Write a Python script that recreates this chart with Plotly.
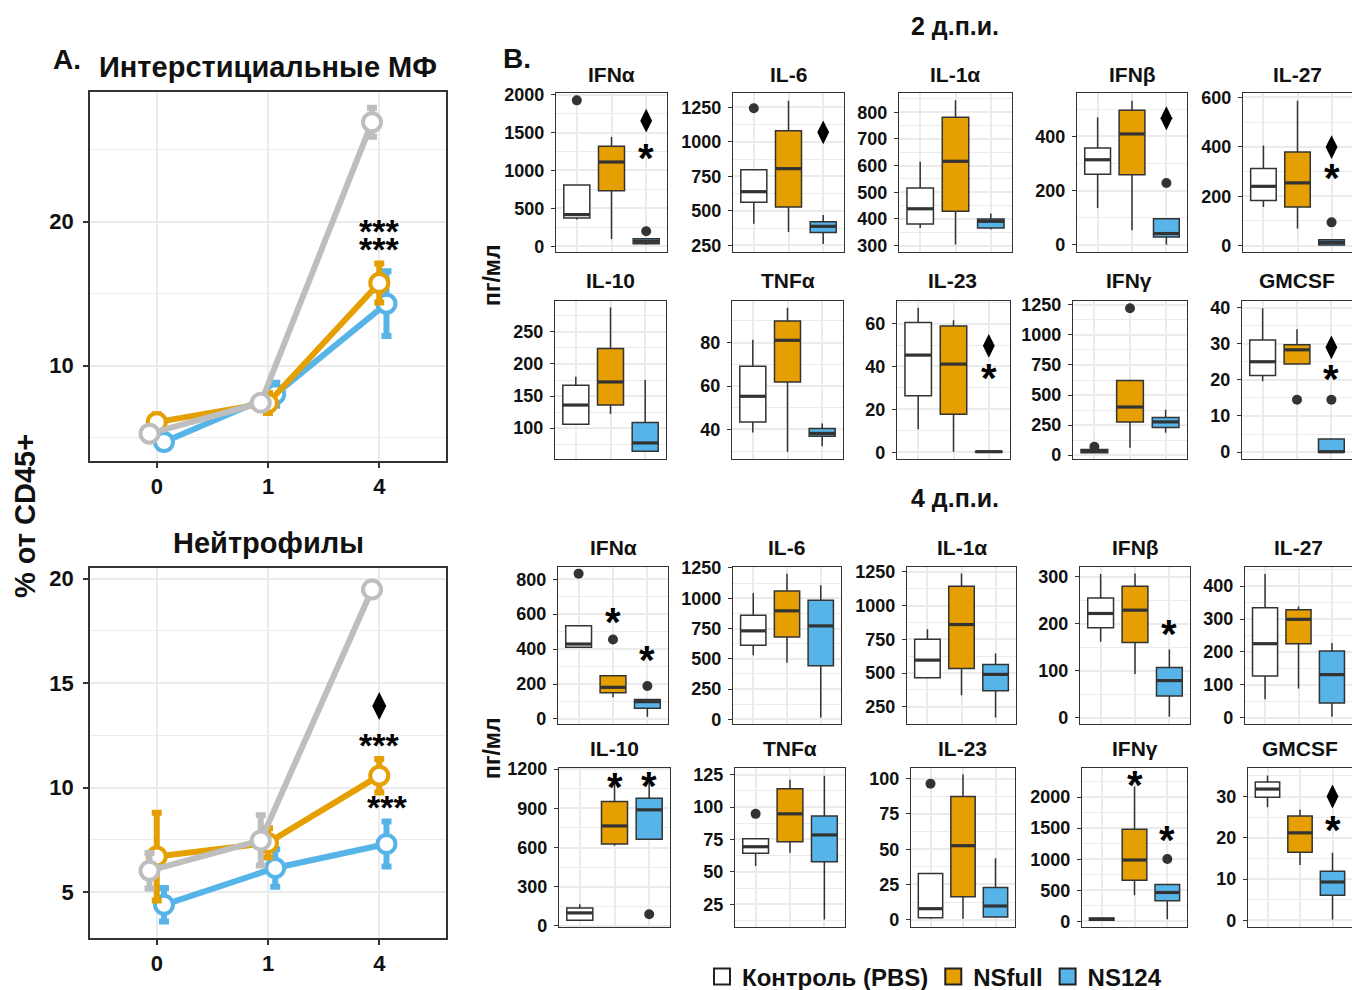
import plotly.graph_objects as go

W, H = 1352, 990
FONT = "Arial, Liberation Sans, sans-serif"
INK = "#111111"
EDGE = "#333333"
GRID = "#EBEBEB"

GROUPS = ["Контроль (PBS)", "NSfull", "NS124"]
BOX_FILL = ["#FFFFFF", "#E69F00", "#56B4E9"]
LINE_COL = ["#BEBEBE", "#E69F00", "#56B4E9"]

# ---------------- Panel A data (mean, error) ----------------
DAYS = ["0", "1", "4"]
MF_CTRL = [5.27, 7.41, 26.9]
MF_CTRL_ERR = [0.3, 0.3, 1.0]
MF_NSFULL = [6.07, 7.40, 15.73]
MF_NSFULL_ERR = [0.55, 0.7, 1.35]
MF_NS124 = [4.69, 8.00, 14.30]
MF_NS124_ERR = [0.3, 0.8, 2.25]
MF_SIG = [(2, 19.7, "***"), (2, 18.45, "***")]

NEU_CTRL = [6.02, 7.47, 19.48]
NEU_CTRL_ERR = [0.85, 1.2, 0.3]
NEU_NSFULL = [6.70, 7.35, 10.57]
NEU_NSFULL_ERR = [2.1, 0.7, 0.8]
NEU_NS124 = [4.39, 6.15, 7.30]
NEU_NS124_ERR = [0.8, 0.9, 1.08]
NEU_SIG = [(2, 12.3, "***"), (2.07, 9.3, "***")]
NEU_DIAMOND = [(2, 13.9)]

# ---------------- Panel B data: (lower, q1, median, q3, upper) per group ----------------
D2_IFNA = [(352, 374, 418, 809, 809), (97, 734, 1112, 1319, 1442), (22, 35, 66, 101, 101)]
D2_IFNA_OUT = [(0, 1925), (2, 198)]
D2_IFNA_SIG = [(2, 1657, "d"), (2, 1253, "*")]

D2_IL6 = [(407, 562, 639, 798, 798), (347, 528, 806, 1081, 1298), (260, 344, 388, 421, 470)]
D2_IL6_OUT = [(0, 1243)]
D2_IL6_SIG = [(2, 1069, "d")]

D2_IL1A = [(366, 381, 438, 516, 614), (304, 429, 616, 781, 845), (360, 366, 391, 400, 420)]
D2_IL1A_OUT = []
D2_IL1A_SIG = []

D2_IFNB = [(136, 261, 314, 357, 471), (54, 259, 409, 496, 531), (1, 29, 42, 97, 97)]
D2_IFNB_OUT = [(2, 228)]
D2_IFNB_SIG = [(2, 467, "d")]

D2_IL27 = [(156, 183, 240, 312, 405), (69, 156, 254, 379, 587), (0, 2, 13, 24, 24)]
D2_IL27_OUT = [(2, 94)]
D2_IL27_SIG = [(2, 399, "d"), (2, 301, "*")]

D2_IL10 = [(106, 106, 136, 167, 180), (122, 136, 172, 224, 288), (64, 64, 77, 109, 175)]
D2_IL10_OUT = []
D2_IL10_SIG = []

D2_TNFA = [(38.6, 43.5, 55.3, 69.1, 81.4), (29.7, 61.9, 81.1, 90.0, 96.1), (32.3, 36.9, 38.2, 40.5, 42.8)]
D2_TNFA_OUT = []
D2_TNFA_SIG = []

D2_IL23 = [(10.7, 26.4, 45.3, 60.5, 67.4), (0.3, 17.7, 41.1, 58.9, 61.5), (0.1, 0.2, 0.3, 0.4, 0.5)]
D2_IL23_OUT = []
D2_IL23_SIG = [(2, 49.6, "d"), (2, 37.8, "*")]

D2_IFNG = [(19, 19, 33, 47, 47), (61, 276, 400, 621, 621), (185, 229, 276, 312, 378)]
D2_IFNG_OUT = [(0, 69), (1, 1222)]
D2_IFNG_SIG = []

D2_GMCSF = [(19.6, 21.2, 25.0, 31.0, 39.8), (24.4, 24.4, 28.3, 29.7, 34.0), (0, 0, 0.1, 3.6, 3.6)]
D2_GMCSF_OUT = [(1, 14.5), (2, 14.5)]
D2_GMCSF_SIG = [(2, 29.0, "d"), (2, 22.1, "*")]

D4_IFNA = [(410, 410, 429, 533, 533), (124, 150, 181, 248, 248), (13, 61, 99, 112, 112)]
D4_IFNA_OUT = [(0, 832), (1, 455), (2, 189)]
D4_IFNA_SIG = [(1, 594, "*"), (2, 379, "*")]

D4_IL6 = [(530, 613, 731, 860, 1044), (467, 681, 896, 1060, 1203), (16, 442, 772, 984, 1107)]
D4_IL6_OUT = []
D4_IL6_SIG = []

D4_IL1A = [(465, 465, 596, 751, 825), (336, 534, 860, 1144, 1238), (171, 368, 490, 564, 645)]
D4_IL1A_OUT = []
D4_IL1A_SIG = []

D4_IFNB = [(162, 191.5, 222, 255, 306), (93, 160, 229, 280, 307), (2, 46, 79, 107, 145)]
D4_IFNB_OUT = []
D4_IFNB_SIG = [(2, 194, "*")]

D4_IL27 = [(56, 127, 225, 334, 437), (89, 225, 299, 328, 338), (3, 45, 131, 203, 227)]
D4_IL27_OUT = []
D4_IL27_SIG = []

D4_IL10 = [(38, 43.5, 100, 138, 166), (614, 627, 765, 952, 1087), (663, 663, 888, 977, 1105)]
D4_IL10_OUT = [(2, 90)]
D4_IL10_SIG = [(1, 1113, "*"), (2, 1123, "*")]

D4_TNFA = [(54.5, 64.3, 69.4, 75.6, 75.6), (64.8, 73.3, 94.8, 114.1, 121.1), (13.1, 57.8, 78.5, 93.2, 124.2)]
D4_TNFA_OUT = [(0, 94.8)]
D4_TNFA_SIG = []

D4_IL23 = [(0.7, 1.4, 7.8, 32.8, 32.8), (0.7, 16.2, 52.5, 87.4, 102.9), (1.9, 1.9, 9.7, 22.8, 43.5)]
D4_IL23_OUT = [(0, 96.4)]
D4_IL23_SIG = []

D4_IFNG = [(16, 16, 32, 54, 54), (420, 663, 987, 1482, 2172), (32, 329, 464, 593, 593)]
D4_IFNG_OUT = [(2, 1003)]
D4_IFNG_SIG = [(1, 2307, "*"), (2, 1418, "*")]

D4_GMCSF = [(27.4, 29.8, 31.8, 33.5, 35.1), (13.4, 16.5, 21.2, 25.3, 26.8), (0.2, 6.1, 9.3, 11.9, 16.4)]
D4_GMCSF_OUT = []
D4_GMCSF_SIG = [(2, 30.0, "d"), (2, 23.5, "*")]

# ---------------- layout spec (pixel boxes, y range, tick step) ----------------
BOX_PANELS = [
    ("IFNα", D2_IFNA, D2_IFNA_OUT, D2_IFNA_SIG, (556, 667, 93, 252), (-75, 2022), 500),
    ("IL-6", D2_IL6, D2_IL6_OUT, D2_IL6_SIG, (733, 844, 93, 252), (202, 1354), 250),
    ("IL-1α", D2_IL1A, D2_IL1A_OUT, D2_IL1A_SIG, (899, 1012, 93, 252), (276, 872), 100),
    ("IFNβ", D2_IFNB, D2_IFNB_OUT, D2_IFNB_SIG, (1077, 1187, 93, 252), (-26, 560), 200),
    ("IL-27", D2_IL27, D2_IL27_OUT, D2_IL27_SIG, (1243, 1352, 93, 252), (-26, 618), 200),
    ("IL-10", D2_IL10, D2_IL10_OUT, D2_IL10_SIG, (555, 666, 301, 459), (52, 298), 50),
    ("TNFα", D2_TNFA, D2_TNFA_OUT, D2_TNFA_SIG, (732, 843, 301, 459), (26.4, 99.2), 20),
    ("IL-23", D2_IL23, D2_IL23_OUT, D2_IL23_SIG, (897, 1010, 301, 459), (-3.1, 70.5), 20),
    ("IFNγ", D2_IFNG, D2_IFNG_OUT, D2_IFNG_SIG, (1073, 1187, 301, 459), (-33, 1283), 250),
    ("GMCSF", D2_GMCSF, D2_GMCSF_OUT, D2_GMCSF_SIG, (1242, 1352, 301, 459), (-1.9, 41.8), 10),
    ("IFNα", D4_IFNA, D4_IFNA_OUT, D4_IFNA_SIG, (558, 668, 567, 724), (-29, 870), 200),
    ("IL-6", D4_IL6, D4_IL6_OUT, D4_IL6_SIG, (733, 841, 567, 724), (-38, 1258), 250),
    ("IL-1α", D4_IL1A, D4_IL1A_OUT, D4_IL1A_SIG, (907, 1016, 567, 724), (122, 1287), 250),
    ("IFNβ", D4_IFNB, D4_IFNB_OUT, D4_IFNB_SIG, (1080, 1190, 567, 724), (-13.5, 321), 100),
    ("IL-27", D4_IL27, D4_IL27_OUT, D4_IL27_SIG, (1245, 1352, 567, 724), (-19, 458), 100),
    ("IL-10", D4_IL10, D4_IL10_OUT, D4_IL10_SIG, (559, 670, 768, 927), (-8, 1208), 300),
    ("TNFα", D4_TNFA, D4_TNFA_OUT, D4_TNFA_SIG, (735, 845, 768, 927), (7.4, 130.2), 25),
    ("IL-23", D4_IL23, D4_IL23_OUT, D4_IL23_SIG, (911, 1015, 768, 927), (-5.2, 107.6), 25),
    ("IFNγ", D4_IFNG, D4_IFNG_OUT, D4_IFNG_SIG, (1082, 1187, 768, 927), (-92, 2469), 500),
    ("GMCSF", D4_GMCSF, D4_GMCSF_OUT, D4_GMCSF_SIG, (1248, 1352, 768, 927), (-1.6, 36.9), 10),
]

LINE_PANELS = [
    ("Интерстициальные МФ", [MF_CTRL, MF_NSFULL, MF_NS124], [MF_CTRL_ERR, MF_NSFULL_ERR, MF_NS124_ERR],
     MF_SIG, [], (90, 446, 92, 461), (3.37, 29.0), [10, 20], [5, 15, 25]),
    ("Нейтрофилы", [NEU_CTRL, NEU_NSFULL, NEU_NS124], [NEU_CTRL_ERR, NEU_NSFULL_ERR, NEU_NS124_ERR],
     NEU_SIG, NEU_DIAMOND, (90, 446, 568, 938), (2.8, 20.51), [5, 10, 15, 20], [7.5, 12.5, 17.5]),
]
DODGE = [-0.065, 0.0, 0.065]


def xdom(a, b):
    return [max(0, a / W), min(1, b / W)]


def ydom(top, bottom):
    return [1 - bottom / H, 1 - top / H]


def bold(size, color=INK):
    return dict(family=FONT, size=size, color=color, weight="bold")


fig = go.Figure()
layout = dict(template="none", width=W, height=H,
              margin=dict(l=0, r=0, t=0, b=0, pad=0, autoexpand=False),
              plot_bgcolor="white", paper_bgcolor="white", boxmode="overlay",
              showlegend=True, font=dict(family=FONT))
annotations = []
idx = 0

# ----- Panel A -----
for title, means, errs, sig, diam, (x0, x1, y0, y1), yr, tv, mv in LINE_PANELS:
    idx += 1
    xa, ya = ("x", "y") if idx == 1 else (f"x{idx}", f"y{idx}")
    xk, yk = ("xaxis", "yaxis") if idx == 1 else (f"xaxis{idx}", f"yaxis{idx}")
    for order in [2, 1, 0]:
        col = LINE_COL[order]
        fig.add_trace(go.Scatter(
            x=[k + DODGE[order] for k in range(len(DAYS))], y=means[order],
            error_y=dict(type="data", array=errs[order], color=col, thickness=6, width=5),
            mode="lines+markers", line=dict(color=col, width=6),
            marker=dict(symbol="circle", size=18, color="white", line=dict(color=col, width=4)),
            xaxis=xa, yaxis=ya, showlegend=False, hoverinfo="skip"))
    for sx, sy, txt in sig:
        annotations.append(dict(x=sx, y=sy, xref=xa, yref=ya, text=txt, showarrow=False,
                                font=bold(34, "black"), yshift=-5))
    if diam:
        fig.add_trace(go.Scatter(x=[d[0] for d in diam], y=[d[1] for d in diam], mode="markers",
                                 marker=dict(symbol="diamond-tall", size=20, color="black"),
                                 xaxis=xa, yaxis=ya, showlegend=False, hoverinfo="skip"))
    layout[xk] = dict(domain=xdom(x0, x1), anchor=ya, range=[-0.6, 2.6], tickvals=[0, 1, 2],
                      ticktext=DAYS, showgrid=True, gridcolor=GRID, gridwidth=2, zeroline=False,
                      showline=True, mirror=True, linecolor=EDGE, linewidth=1.5, automargin=False,
                      ticks="outside", ticklen=5, tickcolor=EDGE, tickwidth=1.5,
                      tickfont=bold(22))
    layout[yk] = dict(domain=ydom(y0, y1), anchor=xa, range=list(yr), tickvals=tv,
                      showgrid=True, gridcolor=GRID, gridwidth=2, zeroline=False,
                      showline=True, mirror=True, linecolor=EDGE, linewidth=1.5, automargin=False,
                      ticks="outside", ticklen=5, tickcolor=EDGE, tickwidth=1.5,
                      tickfont=bold(22), ticklabelstandoff=5,
                      minor=dict(tickvals=mv, showgrid=True, gridcolor=GRID, gridwidth=1.2, ticks=""))
    annotations.append(dict(x=(x0 + x1) / 2 / W, y=1 - (y0 - 25) / H, xref="paper", yref="paper",
                            text=title, showarrow=False, font=bold(29), xanchor="center", yanchor="middle"))

# ----- Panel B -----
HALF = 0.375
for p, (title, stats, outs, sig, (x0, x1, y0, y1), yr, dt) in enumerate(BOX_PANELS):
    idx += 1
    xa, ya = f"x{idx}", f"y{idx}"
    xk, yk = f"xaxis{idx}", f"yaxis{idx}"
    for g, (lo, q1, md, q3, up) in enumerate(stats):
        fig.add_trace(go.Box(
            x=[g], lowerfence=[lo], q1=[q1], median=[md], q3=[q3], upperfence=[up],
            width=2 * HALF, fillcolor=BOX_FILL[g], line=dict(color=EDGE, width=1.5),
            whiskerwidth=0, boxpoints=False, xaxis=xa, yaxis=ya,
            showlegend=False, hoverinfo="skip"))
        fig.add_trace(go.Scatter(
            x=[g - HALF, g + HALF], y=[md, md], mode="lines",
            line=dict(color=EDGE, width=3.2), xaxis=xa, yaxis=ya,
            showlegend=False, hoverinfo="skip"))
    if outs:
        fig.add_trace(go.Scatter(x=[o[0] for o in outs], y=[o[1] for o in outs], mode="markers",
                                 marker=dict(size=10, color=EDGE), xaxis=xa, yaxis=ya,
                                 showlegend=False, hoverinfo="skip"))
    dmd = [s for s in sig if s[2] == "d"]
    if dmd:
        fig.add_trace(go.Scatter(x=[s[0] for s in dmd], y=[s[1] for s in dmd], mode="markers",
                                 marker=dict(symbol="diamond-tall", size=17, color="black"),
                                 xaxis=xa, yaxis=ya, showlegend=False, hoverinfo="skip"))
    for sx, sy, txt in sig:
        if txt == "*":
            annotations.append(dict(x=sx, y=sy, xref=xa, yref=ya, text="*", showarrow=False,
                                    font=bold(40, "black"), yshift=-7))
    layout[xk] = dict(domain=xdom(x0, x1), anchor=ya, range=[-0.6, 2.6], tickvals=[0, 1, 2],
                      showticklabels=False, ticks="", showgrid=True, gridcolor=GRID, gridwidth=1.5,
                      zeroline=False, showline=True, mirror=True, linecolor=EDGE, linewidth=1.2,
                      automargin=False)
    layout[yk] = dict(domain=ydom(y0, y1), anchor=xa, range=list(yr), tick0=0, dtick=dt,
                      showgrid=True, gridcolor=GRID, gridwidth=1.5, zeroline=False,
                      showline=True, mirror=True, linecolor=EDGE, linewidth=1.2, automargin=False,
                      ticks="outside", ticklen=4, tickcolor=EDGE, tickwidth=1.2,
                      tickfont=bold(18), ticklabelstandoff=3,
                      minor=dict(tick0=0, dtick=dt / 2, showgrid=True, gridcolor=GRID,
                                 gridwidth=1, ticks=""))
    ty = {93: 74, 301: 280, 567: 547, 768: 748}[y0]
    annotations.append(dict(x=(x0 + min(x1, x0 + 111)) / 2 / W, y=1 - ty / H, xref="paper", yref="paper",
                            text=title, showarrow=False, font=bold(21), xanchor="center",
                            yanchor="middle"))

# ----- legend (dummy entries) -----
for g, name in enumerate(GROUPS):
    fig.add_trace(go.Scatter(x=[None], y=[None], mode="markers", name=name,
                             marker=dict(symbol="square", size=16, color=BOX_FILL[g],
                                         line=dict(color="#222222", width=2)),
                             xaxis="x3", yaxis="y3", showlegend=True))
layout["legend"] = dict(orientation="h", x=702 / W, y=1 - 977 / H, xanchor="left", yanchor="middle",
                        font=bold(24), itemwidth=30, tracegroupgap=0, bgcolor="rgba(0,0,0,0)")

# ----- free text -----
def ptxt(text, x, y, size, angle=0):
    annotations.append(dict(x=x / W, y=1 - y / H, xref="paper", yref="paper", text=text,
                            showarrow=False, font=bold(size), textangle=angle,
                            xanchor="center", yanchor="middle"))

ptxt("A.", 67, 59, 28)
ptxt("B.", 517, 58, 28)
ptxt("% от CD45+", 25, 516, 29, -90)
ptxt("2 д.п.и.", 955, 26, 25)
ptxt("4 д.п.и.", 955, 498, 25)
ptxt("пг/мл", 492, 275, 23, -90)
ptxt("пг/мл", 492, 748, 23, -90)

layout["annotations"] = annotations
fig.update_layout(**layout)
fig.write_html("out.html", config={"displayModeBar": False},
               post_script="document.documentElement.style.margin='0';"
                           "document.body.style.margin='0';"
                           "document.body.style.overflow='hidden';")
